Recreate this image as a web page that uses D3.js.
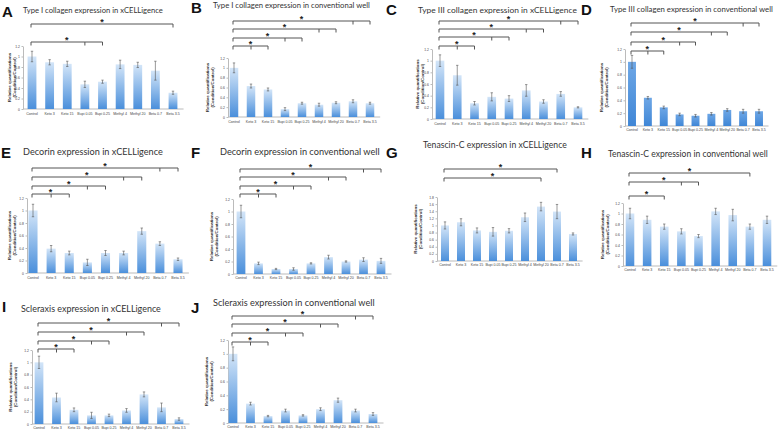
<!DOCTYPE html>
<html>
<head>
<meta charset="utf-8">
<script src="https://cdn.jsdelivr.net/npm/d3@7"></script>
<style>
  body { margin: 0; background: #fff; }
  svg { display: block; }
</style>
</head>
<body>
<div id="fig"></div>
<script>
// categories + tick labels
var categories = ["Control", "Keto 3", "Keto 15", "Bupi 0.05", "Bupi 0.25", "Methyl 4", "Methyl 20", "Beta 0.7", "Beta 3.5"];
var ticks12 = ["0", "0.2", "0.4", "0.6", "0.8", "1", "1.2"];
var ticks18 = ["0", "0.2", "0.4", "0.6", "0.8", "1", "1.2", "1.4", "1.6", "1.8"];

// values (mean, error)
var valuesA = [1.0, 0.89, 0.86, 0.47, 0.52, 0.85, 0.84, 0.73, 0.31];
var errorsA = [0.10, 0.05, 0.05, 0.06, 0.03, 0.08, 0.05, 0.18, 0.03];
var valuesB = [1.0, 0.63, 0.56, 0.16, 0.28, 0.25, 0.29, 0.32, 0.28];
var errorsB = [0.10, 0.04, 0.03, 0.03, 0.02, 0.03, 0.02, 0.03, 0.02];
var valuesC = [1.0, 0.75, 0.27, 0.38, 0.35, 0.49, 0.30, 0.43, 0.20];
var errorsC = [0.10, 0.17, 0.03, 0.07, 0.05, 0.10, 0.03, 0.04, 0.01];
var valuesD = [1.0, 0.44, 0.29, 0.18, 0.16, 0.19, 0.25, 0.23, 0.23];
var errorsD = [0.10, 0.02, 0.02, 0.02, 0.02, 0.02, 0.02, 0.03, 0.03];
var valuesE = [1.0, 0.39, 0.32, 0.17, 0.32, 0.32, 0.67, 0.47, 0.22];
var errorsE = [0.10, 0.05, 0.03, 0.05, 0.04, 0.03, 0.05, 0.03, 0.02];
var valuesF = [1.0, 0.17, 0.08, 0.08, 0.17, 0.27, 0.20, 0.23, 0.21];
var errorsF = [0.10, 0.02, 0.01, 0.02, 0.01, 0.03, 0.01, 0.03, 0.04];
var valuesG = [1.0, 1.09, 0.86, 0.82, 0.85, 1.23, 1.53, 1.39, 0.76];
var errorsG = [0.10, 0.10, 0.07, 0.12, 0.06, 0.12, 0.12, 0.20, 0.03];
var valuesH = [1.0, 0.88, 0.75, 0.66, 0.57, 1.04, 0.97, 0.75, 0.88];
var errorsH = [0.10, 0.07, 0.05, 0.05, 0.03, 0.06, 0.11, 0.05, 0.07];
var valuesI = [1.0, 0.43, 0.23, 0.14, 0.14, 0.22, 0.48, 0.27, 0.08];
var errorsI = [0.10, 0.07, 0.03, 0.05, 0.02, 0.03, 0.04, 0.07, 0.02];
var valuesJ = [1.0, 0.28, 0.10, 0.18, 0.11, 0.20, 0.33, 0.18, 0.13];
var errorsJ = [0.10, 0.02, 0.01, 0.02, 0.01, 0.02, 0.03, 0.02, 0.02];

// significance brackets: control vs [mid, end] category index
var bracketsA = [{ end: 8 }, { mid: 3, end: 4 }];
var brackets4 = [{ mid: 7, end: 8 }, { mid: 5, end: 6 }, { mid: 3, end: 4 }, { mid: 1, end: 2 }];
var bracketsG = [{ end: 7 }, { end: 6 }];
var bracketsH = [{ end: 7 }, { mid: 3, end: 4 }, { end: 2 }];

var panels = [
  { id: "A", title: "Type I collagen expression in xCELLigence", values: valuesA, errors: errorsA, ticks: ticks12, brackets: bracketsA },
  { id: "B", title: "Type I collagen expression in conventional well", values: valuesB, errors: errorsB, ticks: ticks12, brackets: brackets4 },
  { id: "C", title: "Type III collagen expression in xCELLigence", values: valuesC, errors: errorsC, ticks: ticks12, brackets: brackets4 },
  { id: "D", title: "Type III collagen expression in conventional well", values: valuesD, errors: errorsD, ticks: ticks12, brackets: brackets4 },
  { id: "E", title: "Decorin expression in xCELLigence", values: valuesE, errors: errorsE, ticks: ticks12, brackets: brackets4 },
  { id: "F", title: "Decorin expression in conventional well", values: valuesF, errors: errorsF, ticks: ticks12, brackets: brackets4 },
  { id: "G", title: "Tenascin-C expression in xCELLigence", values: valuesG, errors: errorsG, ticks: ticks18, brackets: bracketsG },
  { id: "H", title: "Tenascin-C expression in conventional well", values: valuesH, errors: errorsH, ticks: ticks12, brackets: bracketsH },
  { id: "I", title: "Scleraxis expression in xCELLigence", values: valuesI, errors: errorsI, ticks: ticks12, brackets: brackets4 },
  { id: "J", title: "Scleraxis expression in conventional well", values: valuesJ, errors: errorsJ, ticks: ticks12, brackets: brackets4 }
];

// where each panel sits on the page
var layout = {
  A: { ax: 23,  first: 32,  last: 173, yTop: 46,  y0: 109, labY: 115, ylab: 11,  br: [24, 42],            lx: 2,   ly: 17,  tx: 23,  ty: 13,  tw: 140 },
  B: { ax: 228, first: 234, last: 370, yTop: 58,  y0: 117, labY: 123, ylab: 209, br: [21, 29, 38, 46],    lx: 191, ly: 13,  tx: 213, ty: 8,   tw: 157 },
  C: { ax: 432, first: 440, last: 578, yTop: 49,  y0: 119, labY: 125, ylab: 419, br: [21, 29, 37, 46],    lx: 386, ly: 15,  tx: 418, ty: 13,  tw: 159 },
  D: { ax: 625, first: 632, last: 759, yTop: 49,  y0: 126, labY: 131, ylab: 603, br: [23, 32, 42, 51],    lx: 581, ly: 15,  tx: 610, ty: 12,  tw: 163 },
  E: { ax: 27,  first: 33,  last: 178, yTop: 198, y0: 273, labY: 279, ylab: 11,  br: [168, 177, 186, 194], lx: 1,   ly: 158, tx: 23,  ty: 155, tw: 140 },
  F: { ax: 233, first: 241, last: 381, yTop: 199, y0: 274, labY: 279, ylab: 213, br: [169, 177, 186, 194], lx: 191, ly: 158, tx: 220, ty: 155, tw: 160 },
  G: { ax: 437, first: 445, last: 573, yTop: 197, y0: 261, labY: 266, ylab: 417, br: [169, 178],          lx: 386, ly: 158, tx: 423, ty: 148, tw: 144 },
  H: { ax: 623, first: 630, last: 767, yTop: 203, y0: 266, labY: 271, ylab: 604, br: [173, 182, 196],     lx: 581, ly: 158, tx: 608, ty: 157, tw: 160 },
  I: { ax: 32,  first: 39,  last: 179, yTop: 350, y0: 424, labY: 429, ylab: 12,  br: [323, 332, 341, 349], lx: 2,   ly: 312, tx: 21,  ty: 312, tw: 140 },
  J: { ax: 228, first: 233, last: 373, yTop: 340, y0: 423, labY: 428, ylab: 208, br: [316, 324, 333, 342], lx: 191, ly: 313, tx: 213, ty: 306, tw: 162 }
};

var svg = d3.select("#fig")
  .append("svg")
  .attr("width", 778)
  .attr("height", 433);

var defs = svg.append("defs");
var grad = defs.append("linearGradient")
  .attr("id", "barFill")
  .attr("x1", 0).attr("y1", 0).attr("x2", 0).attr("y2", 1);
grad.append("stop").attr("offset", "0%").attr("stop-color", "#d3e5f8");
grad.append("stop").attr("offset", "100%").attr("stop-color", "#4a8fdb");

var gradD = defs.append("linearGradient")
  .attr("id", "barFillD")
  .attr("x1", 0).attr("y1", 0).attr("x2", 0).attr("y2", 1);
gradD.append("stop").attr("offset", "0%").attr("stop-color", "#6ea7e6");
gradD.append("stop").attr("offset", "100%").attr("stop-color", "#3f86d6");

var lineCol = "#555";

panels.forEach(function(p) {
  var L = layout[p.id];
  var g = svg.append("g");
  var top = +p.ticks[p.ticks.length - 1];

  var x = d3.scalePoint().domain(categories).range([L.first, L.last]);
  var step = x.step();
  var bw = step * 0.5;
  var y = d3.scaleLinear().domain([0, top]).range([L.y0, L.yTop]);

  // panel letter + title
  g.append("text")
    .attr("x", L.lx).attr("y", L.ly)
    .attr("font-family", "Liberation Sans, Arial, sans-serif")
    .attr("font-weight", "bold")
    .attr("font-size", 15)
    .attr("fill", "#111")
    .text(p.id);

  var title = g.append("text")
    .attr("x", L.tx).attr("y", L.ty)
    .attr("font-family", "Lato, 'Open Sans', sans-serif")
    .attr("font-size", 10)
    .attr("fill", "#333")
    .text(p.title);
  var w = title.node().getComputedTextLength();
  title.attr("font-size", 10 * L.tw / w);

  // y axis
  var yAxis = d3.axisLeft(y)
    .tickValues(p.ticks.map(Number))
    .tickFormat(function(d, i) { return p.ticks[i]; })
    .tickSize(1.5)
    .tickSizeOuter(0)
    .tickPadding(1.5);
  var ya = g.append("g")
    .attr("transform", "translate(" + L.ax + ",0)")
    .call(yAxis);
  ya.select(".domain").attr("stroke", "#bbb");
  ya.selectAll(".tick line").attr("stroke", "#bbb");
  ya.selectAll("text")
    .attr("font-size", 3.4)
    .attr("font-family", "Liberation Sans, Arial, sans-serif")
    .attr("fill", "#444");

  // y label
  var mid = (L.y0 + L.yTop) / 2;
  var yl = g.append("text")
    .attr("transform", "translate(" + L.ylab + "," + mid + ") rotate(-90)")
    .attr("text-anchor", "middle")
    .attr("font-family", "Liberation Sans, Arial, sans-serif")
    .attr("font-weight", "bold")
    .attr("font-size", 4.4)
    .attr("fill", "#333");
  yl.append("tspan").attr("x", 0).attr("dy", 0).text("Relative quantifications");
  yl.append("tspan").attr("x", 0).attr("dy", 5).text("(Condition/Control)");

  // x axis baseline + labels
  g.append("line")
    .attr("x1", L.ax).attr("x2", L.last + step * 0.6)
    .attr("y1", L.y0).attr("y2", L.y0)
    .attr("stroke", "#bbb");

  g.selectAll(".cat")
    .data(categories)
    .enter()
    .append("text")
    .attr("x", function(d) { return x(d); })
    .attr("y", L.labY)
    .attr("text-anchor", "middle")
    .attr("font-size", 3.6)
    .attr("font-family", "Liberation Sans, Arial, sans-serif")
    .attr("fill", "#444")
    .text(function(d) { return d; });

  // bars
  g.selectAll(".bar")
    .data(p.values)
    .enter()
    .append("rect")
    .attr("x", function(d, i) { return x(categories[i]) - bw / 2; })
    .attr("y", function(d) { return y(d); })
    .attr("width", bw)
    .attr("height", function(d) { return L.y0 - y(d); })
    .attr("fill", p.id == "D" ? "url(#barFillD)" : "url(#barFill)");

  // error bars
  var eb = g.selectAll(".err")
    .data(p.values)
    .enter()
    .append("g")
    .attr("stroke", "#555")
    .attr("stroke-width", 0.6);
  eb.append("line")
    .attr("x1", function(d, i) { return x(categories[i]); })
    .attr("x2", function(d, i) { return x(categories[i]); })
    .attr("y1", function(d, i) { return y(d - p.errors[i]); })
    .attr("y2", function(d, i) { return y(d + p.errors[i]); });
  [-1, 1].forEach(function(s) {
    eb.append("line")
      .attr("x1", function(d, i) { return x(categories[i]) - 1.2; })
      .attr("x2", function(d, i) { return x(categories[i]) + 1.2; })
      .attr("y1", function(d, i) { return y(d + s * p.errors[i]); })
      .attr("y2", function(d, i) { return y(d + s * p.errors[i]); });
  });

  // significance brackets
  p.brackets.forEach(function(b, k) {
    var by = L.br[k];
    var x0 = x(categories[0]) - 1;
    var x1 = x(categories[b.end]);
    var path = "M" + x0 + "," + (by + 3.5) + "V" + by + "H" + x1 + "V" + (by + 3.5);
    if (b.mid != null) {
      var xm = x(categories[b.mid]);
      path += "M" + xm + "," + by + "V" + (by + 3.5);
    }
    g.append("path")
      .attr("d", path)
      .attr("fill", "none")
      .attr("stroke", lineCol)
      .attr("stroke-width", 1);
    g.append("text")
      .attr("x", (x0 + x1) / 2)
      .attr("y", by + 0.5)
      .attr("text-anchor", "middle")
      .attr("font-family", "Liberation Sans, Arial, sans-serif")
      .attr("font-weight", "bold")
      .attr("font-size", 9)
      .attr("fill", "#222")
      .text("*");
  });
});
</script>
</body>
</html>
